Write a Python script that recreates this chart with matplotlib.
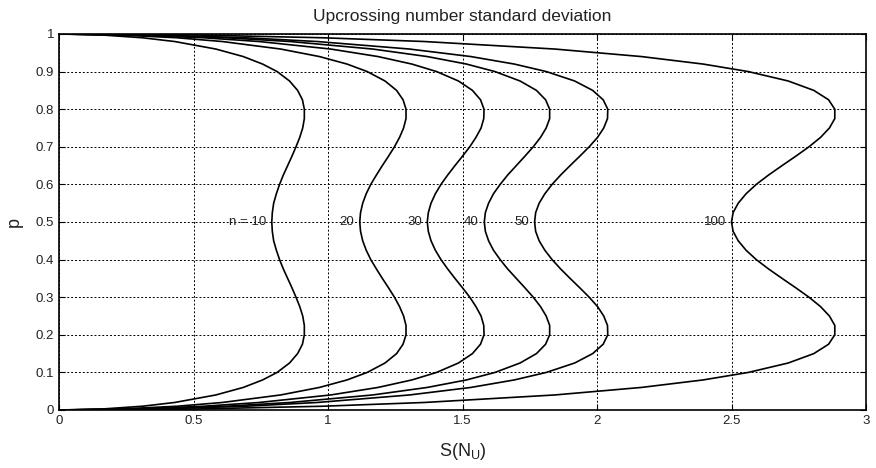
import matplotlib
matplotlib.use("Agg")
import matplotlib.pyplot as plt

plt.rcParams['font.family'] = ['Liberation Sans', 'DejaVu Sans']
plt.rcParams['mathtext.fontset'] = 'custom'
plt.rcParams['mathtext.rm'] = 'Liberation Sans'

# probability levels (p) at which the standard deviation is tabulated
p = [0, 0.0025, 0.01, 0.02, 0.04, 0.06, 0.08, 0.1, 0.125, 0.15, 0.175, 0.2,
     0.225, 0.25, 0.275, 0.3, 0.325, 0.35, 0.375, 0.4, 0.425, 0.45, 0.475, 0.5,
     0.525, 0.55, 0.575, 0.6, 0.625, 0.65, 0.675, 0.7, 0.725, 0.75, 0.775, 0.8,
     0.825, 0.85, 0.875, 0.9, 0.92, 0.94, 0.96, 0.98, 0.99, 0.9975, 1]

s_n10 = [0, 0.157, 0.310, 0.430, 0.583, 0.685, 0.757, 0.811, 0.857, 0.887, 0.905, 0.912,
         0.912, 0.906, 0.895, 0.881, 0.866, 0.850, 0.834, 0.820, 0.808, 0.798, 0.793, 0.791,
         0.793, 0.798, 0.808, 0.820, 0.834, 0.850, 0.866, 0.881, 0.895, 0.906, 0.912, 0.912,
         0.905, 0.887, 0.857, 0.811, 0.757, 0.685, 0.583, 0.430, 0.310, 0.157, 0]
s_n20 = [0, 0.222, 0.438, 0.607, 0.824, 0.968, 1.071, 1.146, 1.212, 1.255, 1.279, 1.290,
         1.290, 1.281, 1.266, 1.247, 1.225, 1.202, 1.180, 1.159, 1.142, 1.129, 1.121, 1.118,
         1.121, 1.129, 1.142, 1.159, 1.180, 1.202, 1.225, 1.247, 1.266, 1.281, 1.290, 1.290,
         1.279, 1.255, 1.212, 1.146, 1.071, 0.968, 0.824, 0.607, 0.438, 0.222, 0]
s_n30 = [0, 0.272, 0.537, 0.744, 1.010, 1.186, 1.312, 1.404, 1.485, 1.537, 1.567, 1.580,
         1.579, 1.569, 1.550, 1.527, 1.500, 1.472, 1.445, 1.420, 1.399, 1.383, 1.373, 1.369,
         1.373, 1.383, 1.399, 1.420, 1.445, 1.472, 1.500, 1.527, 1.550, 1.569, 1.579, 1.580,
         1.567, 1.537, 1.485, 1.404, 1.312, 1.186, 1.010, 0.744, 0.537, 0.272, 0]
s_n40 = [0, 0.315, 0.620, 0.859, 1.166, 1.369, 1.515, 1.621, 1.714, 1.775, 1.809, 1.824,
         1.824, 1.811, 1.790, 1.763, 1.732, 1.700, 1.668, 1.640, 1.615, 1.597, 1.585, 1.581,
         1.585, 1.597, 1.615, 1.640, 1.668, 1.700, 1.732, 1.763, 1.790, 1.811, 1.824, 1.824,
         1.809, 1.775, 1.714, 1.621, 1.515, 1.369, 1.166, 0.859, 0.620, 0.315, 0]
s_n50 = [0, 0.352, 0.693, 0.960, 1.303, 1.531, 1.693, 1.812, 1.917, 1.984, 2.023, 2.040,
         2.039, 2.025, 2.002, 1.971, 1.936, 1.900, 1.865, 1.833, 1.806, 1.785, 1.772, 1.768,
         1.772, 1.785, 1.806, 1.833, 1.865, 1.900, 1.936, 1.971, 2.002, 2.025, 2.039, 2.040,
         2.023, 1.984, 1.917, 1.812, 1.693, 1.531, 1.303, 0.960, 0.693, 0.352, 0]
s_n100 = [0, 0.498, 0.980, 1.358, 1.843, 2.165, 2.395, 2.563, 2.711, 2.806, 2.861, 2.884,
          2.884, 2.864, 2.831, 2.788, 2.739, 2.688, 2.638, 2.592, 2.554, 2.525, 2.506, 2.500,
          2.506, 2.525, 2.554, 2.592, 2.638, 2.688, 2.739, 2.788, 2.831, 2.864, 2.884, 2.884,
          2.861, 2.806, 2.711, 2.563, 2.395, 2.165, 1.843, 1.358, 0.980, 0.498, 0]

curves = [s_n10, s_n20, s_n30, s_n40, s_n50, s_n100]
curve_labels = ["n = 10", "20", "30", "40", "50", "100"]
label_p = 0.5

x_ticks = [0, 0.5, 1, 1.5, 2, 2.5, 3]
x_ticklabels = ["0", "0.5", "1", "1.5", "2", "2.5", "3"]
y_ticks = [0, 0.1, 0.2, 0.3, 0.4, 0.5, 0.6, 0.7, 0.8, 0.9, 1]
y_ticklabels = ["0", "0.1", "0.2", "0.3", "0.4", "0.5", "0.6", "0.7", "0.8", "0.9", "1"]

fig = plt.figure(figsize=(8.76, 4.68), dpi=100)
ax = fig.add_axes([59 / 876, 1 - 410 / 468, 807 / 876, 376 / 468])

for s in curves:
    ax.plot(s, p, color="black", linewidth=1.2)

# curve labels sit just left of each curve at p = 0.5
for s, lab in zip(curves, curve_labels):
    x_mid = s[p.index(label_p)]
    ax.text(x_mid - 0.02, label_p, lab, ha="right", va="center", fontsize=9.5,
            color="#222222")

ax.set_xlim(0, 3)
ax.set_ylim(0, 1)
ax.set_xticks(x_ticks)
ax.set_xticklabels(x_ticklabels)
ax.set_yticks(y_ticks)
ax.set_yticklabels(y_ticklabels)
ax.tick_params(direction="in", length=4, width=0.8, labelsize=9.5,
               top=True, right=True, colors="black", labelcolor="#222222")
ax.grid(True, color="black", linestyle=(0, (2, 2)), linewidth=0.7)
for sp in ax.spines.values():
    sp.set_linewidth(1.2)

ax.set_title("Upcrossing number standard deviation", fontsize=12.5, pad=9,
             color="#222222")
ax.set_xlabel(r"S(N$_\mathregular{U}$)", fontsize=13, labelpad=10, color="#222222")
ax.set_ylabel("p", fontsize=13, labelpad=9, color="#222222")

fig.savefig("out.png", dpi=100)
